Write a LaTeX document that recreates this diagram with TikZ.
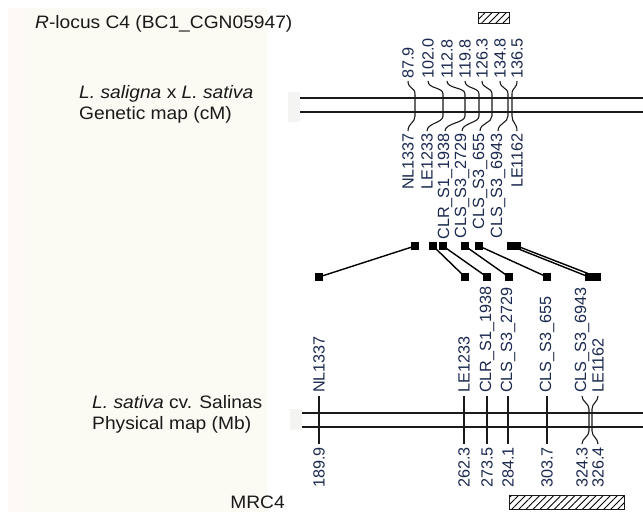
\documentclass[tikz,border=0pt]{standalone}
\usepackage{fontspec}
\setmainfont{Liberation Sans}
\usetikzlibrary{calc,patterns.meta}
\definecolor{cream}{HTML}{FBFAF3}
\definecolor{pinkish}{HTML}{FEF8F6}
\definecolor{labblue}{HTML}{1C2A50}
\definecolor{blockgray}{HTML}{F4F4F2}
\definecolor{ink}{HTML}{1A1A1A}
\newcommand{\myhs}[1]{\scalebox{1.067}[1]{#1}}
\begin{document}
\begin{tikzpicture}[x=1pt,y=-1pt,
  maintext/.style={font=\fontsize{18}{21}\selectfont, text=ink, inner sep=0pt},
  toplab/.style={font=\fontsize{16.2}{18}\selectfont, text=labblue, rotate=90, anchor=west, inner sep=0pt},
  botlab/.style={font=\fontsize{16.2}{18}\selectfont, text=labblue, rotate=90, anchor=east, inner sep=0pt},
  mapline/.style={draw=ink, line width=1.4pt},
  conn/.style={draw=ink, line width=1.1pt},
  sq/.style={fill=black, minimum size=8pt, inner sep=0pt},
  link/.style={draw=black, line width=1.4pt},
  hatchbox/.style={draw=ink, line width=1pt, pattern={Lines[angle=45,distance=5pt,line width=0.9pt]}, inner sep=0pt}]
\fill[white] (0,0) rectangle (643,519);
\useasboundingbox (0,0) rectangle (643,519);
\fill[cream] (8,8) rectangle (267,512);
\fill[pinkish] (8,8) rectangle (25,512);
\fill[blockgray] (288,92) rectangle (300,122);
\fill[blockgray] (290,409) rectangle (302,430);

% left texts
\node[maintext, anchor=base west] (title) at (35,29) {\myhs{\textit{R}-locus C4 (BC1\_CGN05947)}};
\node[maintext, anchor=base west] (gen1) at (79,99) {\myhs{\textit{L. saligna} x \textit{L. sativa}}};
\node[maintext, anchor=base west] (gen2) at (79,120) {\myhs{Genetic map (cM)}};
\node[maintext, anchor=base west] (phy1) at (92,408) {\myhs{\textit{L. sativa} cv. Salinas}};
\node[maintext, anchor=base west] (phy2) at (92,429) {\myhs{Physical map (Mb)}};
\node[maintext, anchor=base east] (mrc) at (285,508) {\myhs{MRC4}};

% hatched boxes
\node[hatchbox, minimum width=31pt, minimum height=11pt] (rbox) at (493.5,18.5) {};
\node[hatchbox, minimum width=115pt, minimum height=14pt] (mbox) at (566.5,502) {};

% genetic map lines
\coordinate (gL1) at (300,98); \coordinate (gR1) at (643,98);
\coordinate (gL2) at (300,112); \coordinate (gR2) at (643,112);
\draw[mapline] (gL1) -- (gR1);
\draw[mapline] (gL2) -- (gR2);

\foreach \n/\tx/\lx/\bx/\num/\lab in {
 a/415/408/408/87.9/NL1337,
 b/443/428/427/102.0/LE1233,
 c/465/447/445/112.8/CLR\_S1\_1938,
 d/479/465/462/119.8/CLS\_S3\_2729,
 e/492/482/480/126.3/CLS\_S3\_655,
 f/508/500/498/134.8/CLS\_S3\_6943,
 g/512/517/517/136.5/LE1162}
{
 \node[toplab] (gt\n) at (\lx,79) {\num};
 \node[botlab] (gb\n) at (\bx,133) {\lab};
 \coordinate (gu\n) at (\tx,94);
 \coordinate (gd\n) at (\tx,116);
 \draw[conn] ($(gt\n.west)+(0,2)$) .. controls +(0,8) and +(0,-7) .. (gu\n) -- (gd\n) .. controls +(0,7) and +(0,-8) .. ($(gb\n.east)+(0,-2)$);
}

% physical map lines
\coordinate (pL1) at (302,413); \coordinate (pR1) at (643,413);
\coordinate (pL2) at (302,427); \coordinate (pR2) at (643,427);
\draw[mapline] (pL1) -- (pR1);
\draw[mapline] (pL2) -- (pR2);

\foreach \n/\tx/\lx/\lab/\num in {
 a/319/319/NL1337/189.9,
 b/464/464/LE1233/262.3,
 c/487/487/CLR\_S1\_1938/273.5,
 d/508/508/CLS\_S3\_2729/284.1,
 e/547/547/CLS\_S3\_655/303.7,
 f/589/582/CLS\_S3\_6943/324.3,
 g/592/598/LE1162/326.4}
{
 \node[toplab] (pt\n) at (\lx,393) {\lab};
 \node[botlab] (pb\n) at (\lx,447) {\num};
 \coordinate (pu\n) at (\tx,409);
 \coordinate (pd\n) at (\tx,431);
 \draw[conn] ($(pt\n.west)+(0,3)$) .. controls +(0,6) and +(0,-6) .. (pu\n) -- (pd\n) .. controls +(0,6) and +(0,-6) .. ($(pb\n.east)+(0,-3)$);
}

% squares and links
\foreach \n/\xa/\xb in {a/415/319, b/433/465, c/443/487, d/465/509, e/479/547, f/511/589, g/517/597}
{
 \node[sq] (s1\n) at (\xa,246) {};
 \node[sq] (s2\n) at (\xb,277) {};
 \draw[link] (s1\n.center) -- (s2\n.center);
}
\end{tikzpicture}
\end{document}
